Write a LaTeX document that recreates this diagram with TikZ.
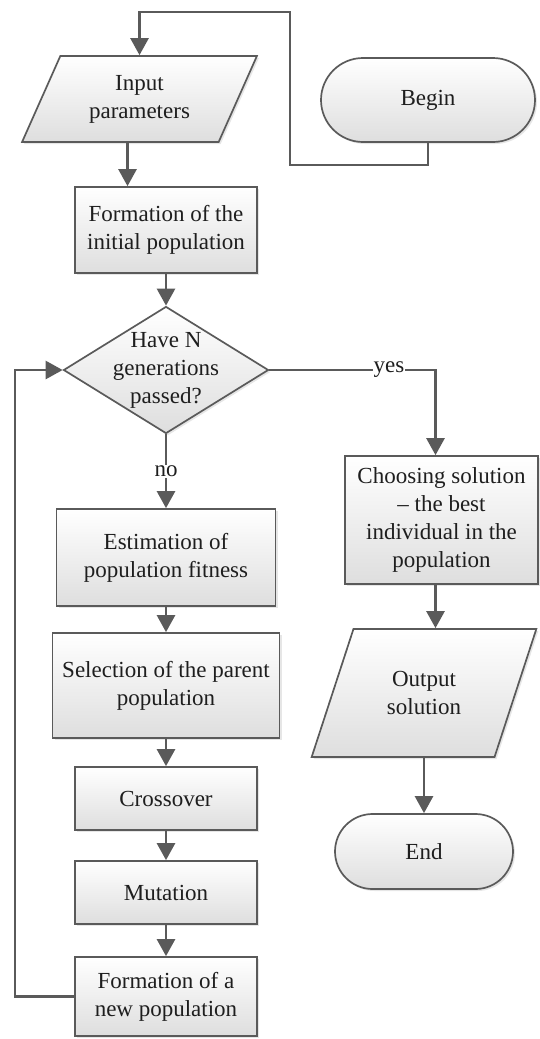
\documentclass[tikz,border=0pt]{standalone}
\usepackage{fontspec}
\setmainfont{Liberation Serif}
\usepackage{tikz}
\usetikzlibrary{shapes.geometric, shapes.misc, arrows.meta, positioning, shadows, calc}
\definecolor{linegray}{RGB}{90,90,90}
\definecolor{boxgray}{RGB}{222,222,222}
\definecolor{txtgray}{RGB}{30,30,30}

\begin{document}
\begin{tikzpicture}[x=1pt, y=-1pt,
  every node/.style={font=\fontsize{23}{28}\selectfont, text=txtgray, align=center},
  blockbox/.style={rectangle, draw=linegray, line width=1.7pt, top color=white, bottom color=boxgray,
    drop shadow={opacity=0.2, shadow xshift=2pt, shadow yshift=-2pt}, inner sep=2pt},
  iobox/.style={blockbox, trapezium, trapezium left angle=64, trapezium right angle=116, trapezium stretches=true},
  termbox/.style={blockbox, rounded rectangle},
  decbox/.style={blockbox, diamond, inner sep=0pt},
  flow/.style={draw=linegray, line width=2.6pt, -{Triangle[length=17pt, width=18pt]}},
  answer/.style={fill=white, inner sep=1pt}]
  \useasboundingbox (0,0) rectangle (540,1039);

  % left column
  \node[iobox, minimum width=235pt, minimum height=86pt] (input) at (139.5,99) {Input\\parameters};
  \node[blockbox, minimum width=182pt, minimum height=86pt] (init) at (166,230) {Formation of the\\initial population};
  \node[decbox, minimum width=205pt, minimum height=127pt, label={center:Have N\\generations\\passed?}] (check) at (166,370) {};
  \node[blockbox, minimum width=219pt, minimum height=97pt] (fitness) at (166,557.5) {Estimation of\\population fitness};
  \node[blockbox, minimum width=227pt, minimum height=105pt] (parents) at (166,685.5) {Selection of the parent\\population};
  \node[blockbox, minimum width=182pt, minimum height=63pt] (cross) at (166,798.5) {Crossover};
  \node[blockbox, minimum width=182pt, minimum height=63pt] (mutate) at (166,892.5) {Mutation};
  \node[blockbox, minimum width=182pt, minimum height=79pt] (newpop) at (166,996.5) {Formation of a\\new population};

  % right column
  \node[termbox, minimum width=218pt, minimum height=84pt] (begin) at (428,100) {Begin};
  \node[blockbox, minimum width=193pt, minimum height=128pt] (choose) at (441.5,520) {Choosing solution\\– the best\\individual in the\\population};
  \node[iobox, minimum width=225pt, minimum height=128pt] (output) at (424,693) {Output\\solution};
  \node[termbox, minimum width=182pt, minimum height=75pt] (finish) at (424,851.5) {End};

  \coordinate (turn) at (290,12);
  \coordinate (inleft) at ([xshift=-12pt]input.south);
  \coordinate (yesend) at ([xshift=-6pt]choose.north);
  \coordinate (chooseout) at ([xshift=-6pt]choose.south);

  \draw[flow] (begin.south) -- ++(0,22) -| (turn) -| (input.north);
  \draw[flow] (inleft) -- (inleft |- init.north);
  \draw[flow] (init) -- (check);
  \draw[flow] (check) -- node[answer] {no} (fitness);
  \draw[flow] (fitness) -- (parents);
  \draw[flow] (parents) -- (cross);
  \draw[flow] (cross) -- (mutate);
  \draw[flow] (mutate) -- (newpop);
  \draw[flow] (newpop.west) -- ++(-59,0) |- (check.west);
  \draw[flow] (check.east) -| node[answer, pos=0.36] {yes} (yesend);
  \draw[flow] (chooseout) -- (chooseout |- output.north);
  \draw[flow] (output.south) -- (output.south |- finish.north);
\end{tikzpicture}
\end{document}
